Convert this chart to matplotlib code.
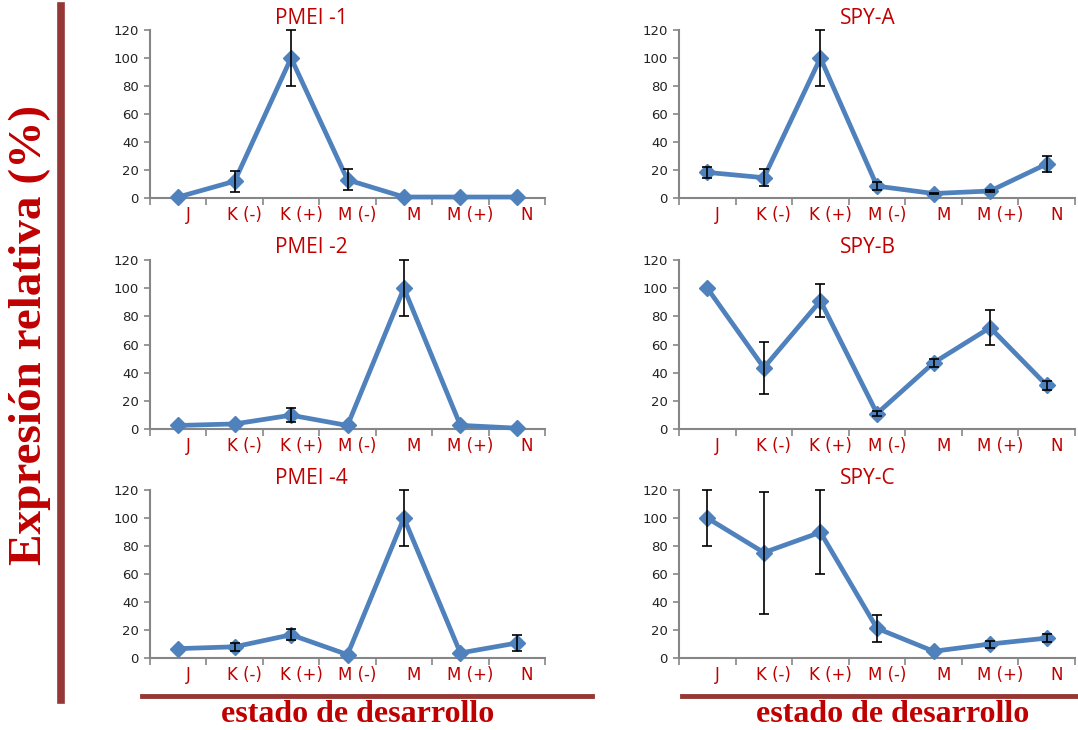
import numpy as np
import matplotlib.pyplot as plt
import matplotlib.transforms as mtransforms

stages = ['J', 'K (-)', 'K (+)', 'M (-)', 'M', 'M (+)', 'N']

titles = ['PMEI -1', 'SPY-A', 'PMEI -2', 'SPY-B', 'PMEI -4', 'SPY-C']

pmei1 = [0.7, 12, 100, 13, 0.7, 0.7, 0.7]
pmei1_err = [0, 7.5, 20, 7.5, 0, 0, 0]
spya = [18.3, 14.5, 100, 8.5, 3.2, 5, 24.3]
spya_err = [4, 6, 20, 2.7, 0.5, 1, 6]
pmei2 = [2.5, 3.6, 9.8, 2.5, 100, 2.6, 0.6]
pmei2_err = [0, 0, 5, 0, 20, 0, 0]
spyb = [100, 43.5, 91, 11, 47, 72, 31]
spyb_err = [0, 18.5, 11.8, 2, 3, 12.3, 3.3]
pmei4 = [6.7, 8, 16.6, 2.4, 100, 3.6, 10.7]
pmei4_err = [0, 3, 4, 0, 20, 0, 6]
spyc = [100, 75.3, 89.8, 21.2, 4.8, 10, 14.2]
spyc_err = [20, 43.6, 30, 9.5, 0, 2.5, 3]

series = [(pmei1, pmei1_err), (spya, spya_err), (pmei2, pmei2_err),
          (spyb, spyb_err), (pmei4, pmei4_err), (spyc, spyc_err)]

W, H = 1078, 730
red = '#C00000'
bar = '#953735'
blue = '#4F81BD'
grey = '#868686'

fig = plt.figure(figsize=(W/100, H/100), dpi=100)

def rect(x0, x1, yt, yb):
	return [x0/W, 1 - yb/H, (x1 - x0)/W, (yb - yt)/H]

cols = [(150, 545), (679, 1075)]
rows = [(30, 198), (260, 429), (490, 658)]
title_x = [311, 868]

x = np.arange(len(stages))
for i, (vals, err) in enumerate(series):
	r, c = divmod(i, 2)
	ax = fig.add_axes(rect(cols[c][0], cols[c][1], rows[r][0], rows[r][1]))
	ax.plot(x, vals, '-', color=blue, lw=3.4, marker='D', ms=8.5, zorder=3, clip_on=False)
	e = np.array(err)
	m = e > 0
	ax.errorbar(x[m], np.array(vals)[m], yerr=e[m], fmt='none', ecolor='black',
		elinewidth=1.2, capsize=3.5, capthick=1.2, zorder=4, clip_on=False)
	ax.set_xlim(-0.5, 6.5)
	ax.set_ylim(0, 120)
	ax.set_yticks(range(0, 121, 20))
	ax.set_xticks(x)
	ax.set_xticklabels(stages, color=red, fontsize=12)
	ax.set_xticks(np.arange(-0.5, 7, 1), minor=True)
	ax.tick_params(axis='x', which='major', length=0, pad=6)
	ax.tick_params(axis='x', which='minor', length=5, color=grey, width=1.2)
	ax.tick_params(axis='y', length=4, color=grey, width=1.2, labelsize=9.5,
		labelcolor='#222222', pad=4)
	off = mtransforms.ScaledTranslation(10/100, 0, fig.dpi_scale_trans)
	for lab in ax.get_xticklabels():
		lab.set_transform(lab.get_transform() + off)
	for s in ['top', 'right']:
		ax.spines[s].set_visible(False)
	for s in ['left', 'bottom']:
		ax.spines[s].set_color(grey)
		ax.spines[s].set_linewidth(1.5)
	fig.text(title_x[c]/W, 1 - (rows[r][0] - 12)/H, titles[i], color=red,
		fontsize=15, family='Open Sans', ha='center', va='center')

# decorations
fig.add_artist(plt.Line2D([60.5/W, 60.5/W], [1 - 6/H, 1 - 700/H], color=bar, lw=5.5))
fig.add_artist(plt.Line2D([142/W, 592/W], [1 - 696/H, 1 - 696/H], color=bar, lw=3.5))
fig.add_artist(plt.Line2D([682/W, 1078/W], [1 - 696/H, 1 - 696/H], color=bar, lw=3.5))

fig.text(30/W, 1 - 335/H, 'Expresión relativa (%)', rotation=90, color=red,
	fontsize=34, family='Liberation Serif', fontweight='bold', ha='center', va='center')
fig.text(358/W, 1 - 714/H, 'estado de desarrollo', color=red, fontsize=23,
	family='Liberation Serif', fontweight='bold', ha='center', va='center')
fig.text(893/W, 1 - 714/H, 'estado de desarrollo', color=red, fontsize=23,
	family='Liberation Serif', fontweight='bold', ha='center', va='center')

plt.savefig('out.png', dpi=100)
